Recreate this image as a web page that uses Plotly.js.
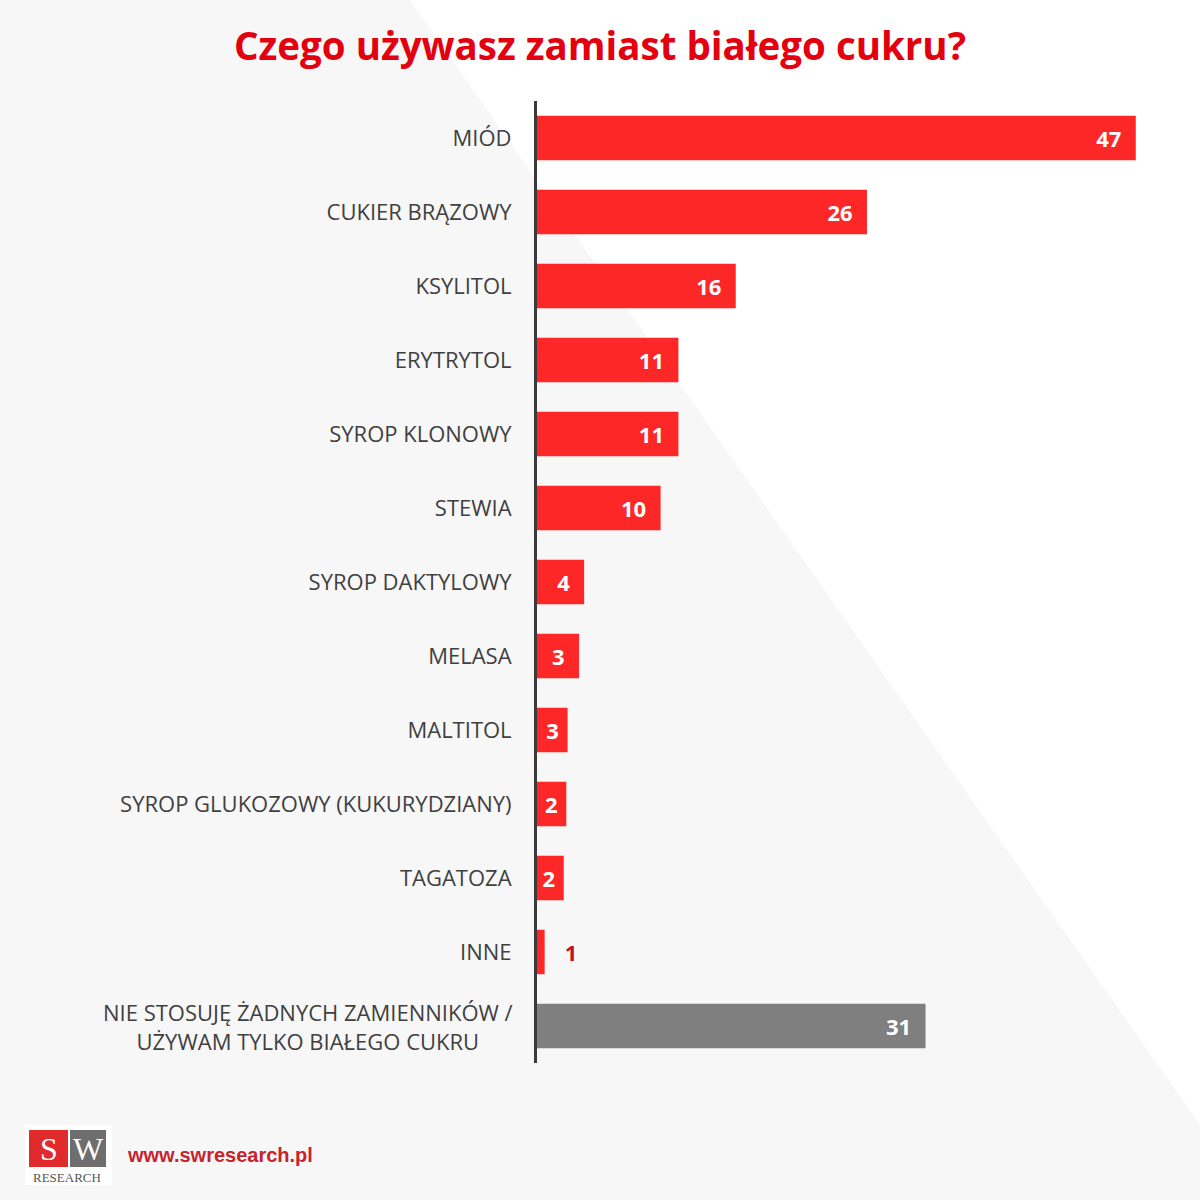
<!DOCTYPE html>
<html>
<head>
<meta charset="utf-8">
<script src="https://cdn.plot.ly/plotly-3.0.1.min.js"></script>
<style>
  html, body { margin: 0; padding: 0; background: #ffffff; }
  #chart { width: 1200px; height: 1200px; }
</style>
</head>
<body>
<div id="chart"></div>
<script>
// ---- data ----
const categories = [
  "MIÓD",
  "CUKIER BRĄZOWY",
  "KSYLITOL",
  "ERYTRYTOL",
  "SYROP KLONOWY",
  "STEWIA",
  "SYROP DAKTYLOWY",
  "MELASA",
  "MALTITOL",
  "SYROP GLUKOZOWY (KUKURYDZIANY)",
  "TAGATOZA",
  "INNE",
  "NIE STOSUJĘ ŻADNYCH ZAMIENNIKÓW / UŻYWAM TYLKO BIAŁEGO CUKRU"
];
// bar lengths (percent)
const values = [47.0, 25.9, 15.6, 11.1, 11.1, 9.7, 3.7, 3.3, 2.4, 2.3, 2.1, 0.6, 30.5];
// printed value labels
const valueLabels = ["47", "26", "16", "11", "11", "10", "4", "3", "3", "2", "2", "1", "31"];
const tickLabels = [
  "MIÓD",
  "CUKIER BRĄZOWY",
  "KSYLITOL",
  "ERYTRYTOL",
  "SYROP KLONOWY",
  "STEWIA",
  "SYROP DAKTYLOWY",
  "MELASA",
  "MALTITOL",
  "SYROP GLUKOZOWY (KUKURYDZIANY)",
  "TAGATOZA",
  "INNE",
  ""
];
const lastLabel = "NIE STOSUJĘ ŻADNYCH ZAMIENNIKÓW /<br>UŻYWAM TYLKO BIAŁEGO CUKRU";
const titleText = "Czego używasz zamiast białego cukru?";
const urlText = "www.swresearch.pl";

// ---- layout geometry ----
const W = 1200, H = 1200;
const M = { l: 537, r: 26, t: 101, b: 137 };
const PW = W - M.l - M.r, PH = H - M.t - M.b;
const px = x => (x - M.l) / PW;
const py = y => (H - M.b - y) / PH;

const NB = "\u00a0";
const barColors = values.map((v, i) => i === values.length - 1 ? "#7f7f7f" : "#fd2727");
const textPos = values.map(v => v < 1 ? "outside" : "inside");
const barText = values.map((v, i) => {
  if (v < 1) return NB + NB + NB + valueLabels[i];
  if (v < 3) return valueLabels[i] + NB;
  return valueLabels[i] + NB + NB;
});

const trace = {
  type: "bar",
  orientation: "h",
  y: categories,
  x: values,
  marker: { color: barColors, line: { width: 0 } },
  width: 0.6,
  text: barText,
  textposition: textPos,
  insidetextanchor: "end",
  constraintext: "none",
  cliponaxis: false,
  insidetextfont: { family: "Open Sans", size: 22, color: "#ffffff", weight: "bold" },
  outsidetextfont: { family: "Open Sans", size: 22, color: "#c0141b", weight: "bold" },
  hoverinfo: "none"
};

const gray = "#f7f7f7";
const shapes = [
  {
    type: "path", xref: "paper", yref: "paper", layer: "below",
    path: `M ${px(0)} ${py(0)} L ${px(410)} ${py(0)} L ${px(1200)} ${py(1125)} L ${px(1200)} ${py(1200)} L ${px(0)} ${py(1200)} Z`,
    fillcolor: gray, line: { width: 0 }
  },
  // logo
  { type: "rect", xref: "paper", yref: "paper", x0: px(25), x1: px(112), y0: py(1185), y1: py(1125),
    fillcolor: "#ffffff", line: { width: 0 } },
  { type: "rect", xref: "paper", yref: "paper", x0: px(29), x1: px(68), y0: py(1167), y1: py(1130),
    fillcolor: "#e02a2c", line: { width: 0 } },
  { type: "rect", xref: "paper", yref: "paper", x0: px(70), x1: px(106), y0: py(1167), y1: py(1130),
    fillcolor: "#6e6e6e", line: { width: 0 } }
];

const annotations = [
  {
    xref: "paper", yref: "y", x: 0, y: categories[categories.length - 1],
    xanchor: "right", yanchor: "middle", xshift: -22, align: "center",
    text: lastLabel, showarrow: false,
    font: { family: "Open Sans", size: 22, color: "#404040" }
  },
  { xref: "paper", yref: "paper", x: px(48.5), y: py(1149), xanchor: "center", yanchor: "middle",
    text: "S", showarrow: false, font: { family: "Liberation Serif", size: 32, color: "#ffffff" } },
  { xref: "paper", yref: "paper", x: px(88), y: py(1149), xanchor: "center", yanchor: "middle",
    text: "W", showarrow: false, font: { family: "Liberation Serif", size: 32, color: "#ffffff" } },
  { xref: "paper", yref: "paper", x: px(67), y: py(1177), xanchor: "center", yanchor: "middle",
    text: "RESEARCH", showarrow: false, font: { family: "Liberation Serif", size: 13, color: "#555555" } },
  { xref: "paper", yref: "paper", x: px(125), y: py(1155), xanchor: "left", yanchor: "middle",
    text: urlText, showarrow: false,
    font: { family: "Liberation Sans", size: 20, color: "#c8232c", weight: "bold" } }
];

const layout = {
  width: W, height: H,
  margin: M,
  paper_bgcolor: "#ffffff",
  plot_bgcolor: "rgba(0,0,0,0)",
  showlegend: false,
  title: {
    text: titleText,
    x: 0.5, xref: "container", xanchor: "center",
    y: 1 - 47 / H, yref: "container", yanchor: "middle",
    font: { family: "Open Sans", size: 38.5, color: "#e3000f", weight: "bold" }
  },
  xaxis: {
    range: [0, 50],
    showgrid: false, zeroline: false, showline: false,
    showticklabels: false, ticks: "", fixedrange: true
  },
  yaxis: {
    type: "category",
    autorange: "reversed",
    tickmode: "array",
    tickvals: categories,
    ticktext: tickLabels,
    showgrid: false, zeroline: false,
    showline: true, linecolor: "#3a3a3a", linewidth: 3,
    ticks: "", ticklabelstandoff: 18,
    tickfont: { family: "Open Sans", size: 22, color: "#404040" },
    fixedrange: true
  },
  shapes: shapes,
  annotations: annotations
};

Plotly.newPlot("chart", [trace], layout, { staticPlot: true, displayModeBar: false });
</script>
</body>
</html>
